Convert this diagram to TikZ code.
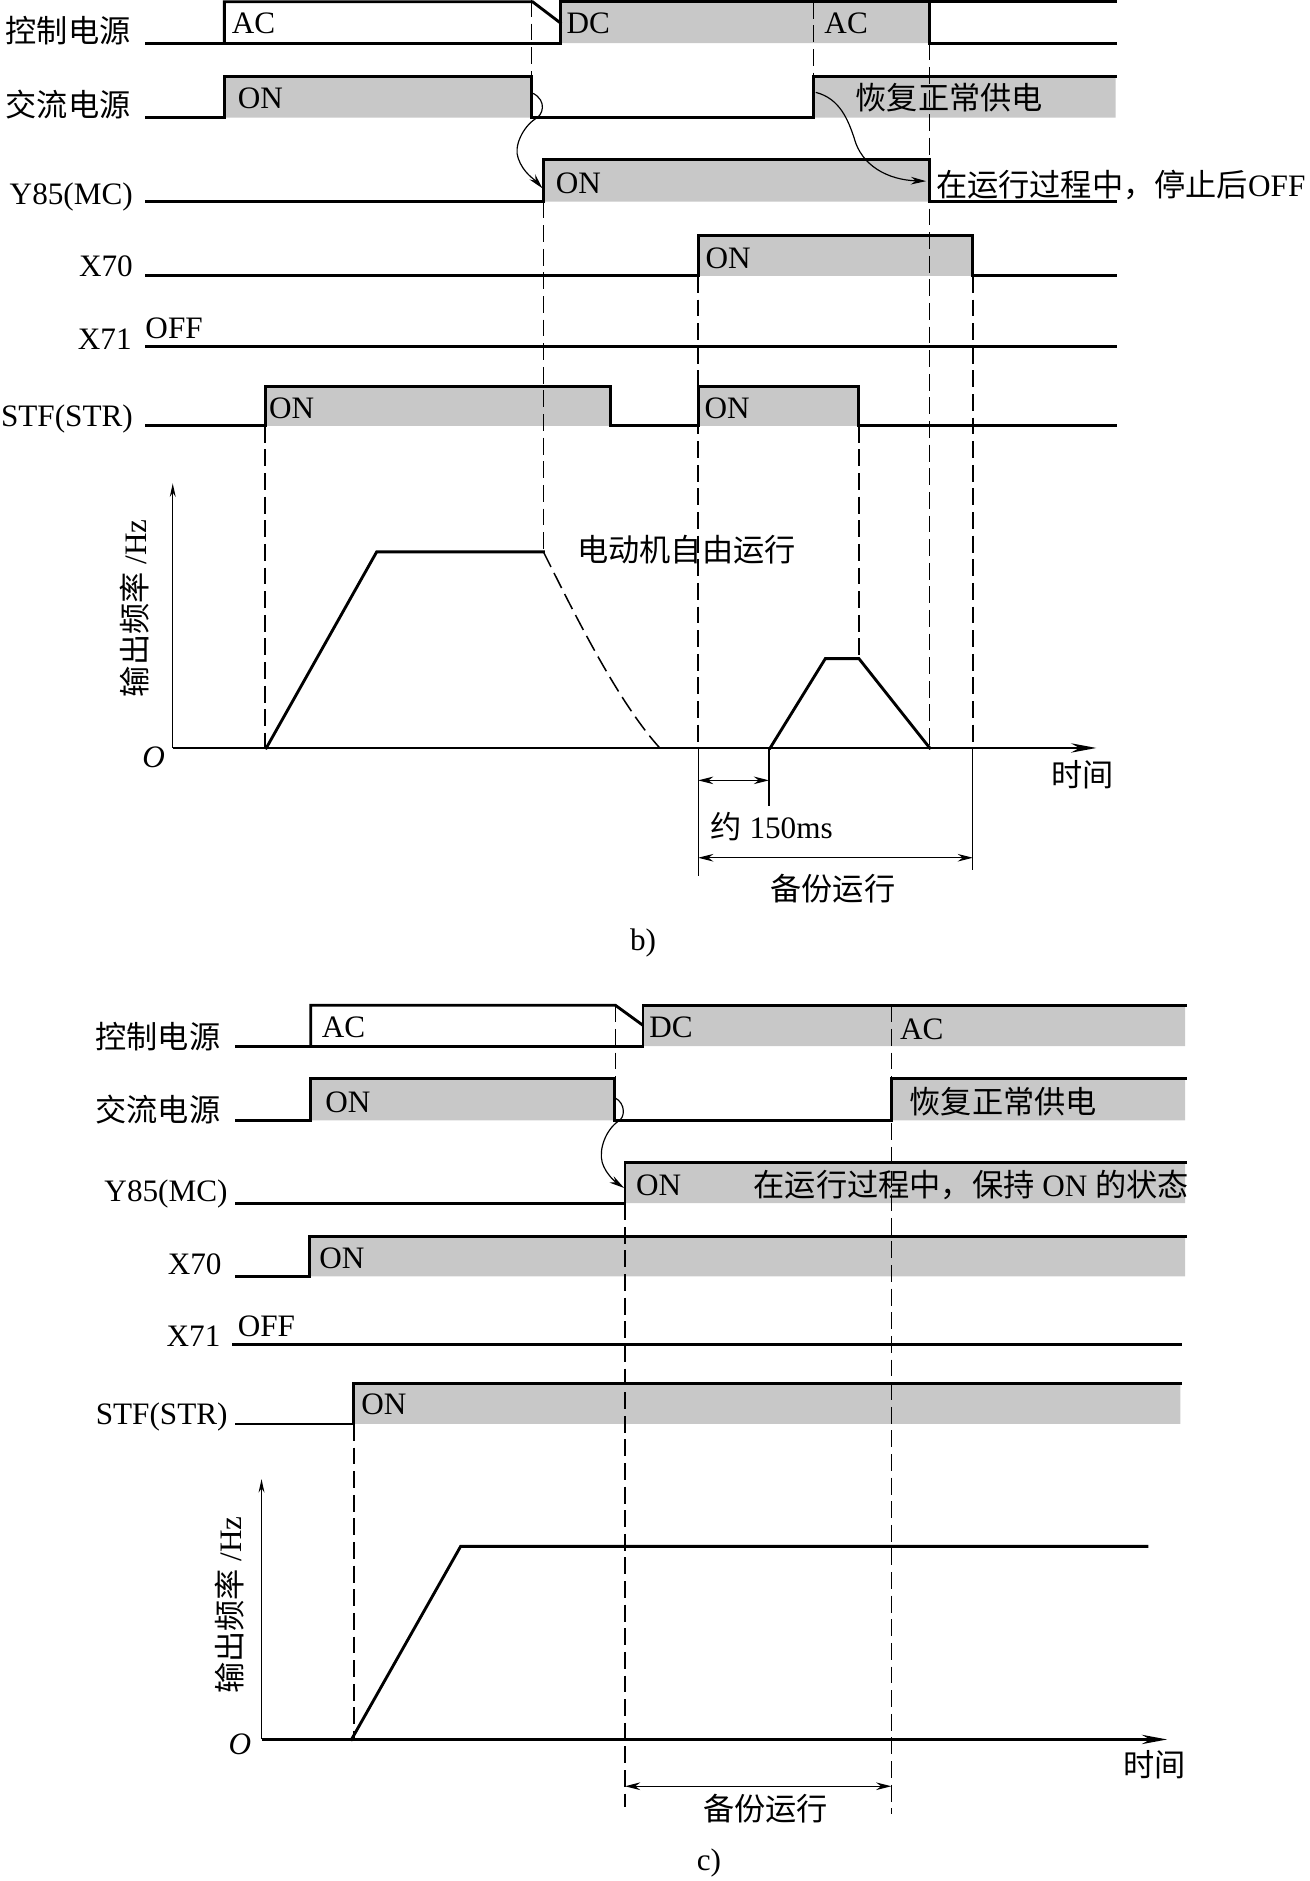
\documentclass[tikz,border=0pt]{standalone}
\usepackage{fontspec}
\setmainfont{Liberation Serif}
\newfontfamily\cjk{Noto Sans CJK SC}
\usetikzlibrary{arrows.meta}
\definecolor{ongray}{RGB}{200,200,200}

\begin{document}
\begin{tikzpicture}[x=0.025cm, y=-0.025cm, font=\fontsize{18.5}{22}\selectfont,
	sig/.style={line width=1.7pt, line cap=rect},
	guide/.style={line width=0.9pt, dash pattern=on 10pt off 4pt},
	fine/.style={line width=0.7pt},
	lbl/.style={anchor=east, inner sep=0pt},
	txt/.style={anchor=west, inner sep=0pt},
	tip/.style={-{Stealth[length=9pt, width=4.5pt]}},
	dtip/.style={{Stealth[length=9pt, width=4.5pt]}-{Stealth[length=9pt, width=4.5pt]}},
	axis/.style={line width=1.7pt, -{Stealth[length=15pt, width=5.5pt]}}]
	\useasboundingbox (0,0) rectangle (1092,1568);
	
	% b)
	\fill [ongray] (467,1.5) rectangle (775,36) (187,64) rectangle (443,98) (678,64) rectangle (930,98) (453,133) rectangle (775,168) (582,196) rectangle (811,230) (221,322) rectangle (509,355) (582,322) rectangle (716,355);
	
	\foreach \x/\a/\b in {443/0/98, 678/1.5/64, 775/36/623, 453/168/460, 221/355/623, 582/230/623, 716/355/549, 811/230/623}
	{
		\draw [guide] (\x,\a) -- (\x,\b);
	}
	
	\draw [sig] (122,36) -- (467,36) -- (467,1.5) -- (930,1.5);
	\draw [sig] (187,36) -- (187,1.5) -- (444,1.5) -- (467,19);
	\draw [sig] (775,1.5) -- (775,36) -- (930,36);
	\draw [sig] (122,98) -- (187,98) -- (187,64) -- (443,64) -- (443,98) -- (678,98) -- (678,64) -- (930,64);
	\draw [sig] (122,168) -- (453,168) -- (453,133) -- (775,133) -- (775,168) -- (930,168);
	\draw [sig] (122,230) -- (582,230) -- (582,196) -- (811,196) -- (811,230) -- (930,230);
	\draw [sig] (122,289) -- (930,289);
	\draw [sig] (122,355) -- (221,355) -- (221,322) -- (509,322) -- (509,355) -- (582,355) -- (582,322) -- (716,322) -- (716,355) -- (930,355);
	
	\coordinate (bfall) at (444.4,77.8);
	\coordinate (bon) at (452.2,157);
	\coordinate (brise) at (680,77);
	\coordinate (boff) at (772,151);
	\draw [fine, tip] (bfall) .. controls (456,84) and (453,96) .. (445.8,99.4) .. controls (436,106) and (428,122) .. (432,132) .. controls (436,144) and (446,150) .. (bon);
	\draw [fine, tip] (brise) .. controls (700,82) and (707,100) .. (712,115) .. controls (718,138) and (740,150) .. (boff);
	
	\draw (109,25.5) node (bctl) [lbl] {\cjk 控制电源};
	\draw (109,87.5) node (bac) [lbl] {\cjk 交流电源};
	\draw (111,164) node (by85) [lbl] {Y85(MC)};
	\draw (111,222) node (bx70) [lbl] {X70};
	\draw (110,283) node (bx71) [lbl] {X71};
	\draw (111,349) node (bstf) [lbl] {STF(STR)};
	\draw (121,274) node (boff71) [txt] {OFF};
	
	\draw (193,19.5) node (bacsrc) [txt] {AC};
	\draw (472,19.5) node (bdcsrc) [txt] {DC};
	\draw (687,19.5) node (bacback) [txt] {AC};
	\draw (198,82) node (bacon) [txt] {ON};
	\draw (713,81) node (bnormal) [txt] {\cjk 恢复正常供电};
	\draw (463,153) node (by85on) [txt] {ON};
	\draw (780,154) node (bstop) [txt] {{\cjk 在运行过程中，停止后}OFF};
	\draw (588,215) node (bx70on) [txt] {ON};
	\draw (224,340) node (bstfon) [txt] {ON};
	\draw (587,340) node (bstfagain) [txt] {ON};
	
	\draw [fine, -{Stealth[length=8pt, width=3.5pt]}] (144,623.5) -- (144,403);
	\draw [axis] (144,623.5) -- (914,623.5);
	\draw [sig] (222,623.5) -- (314,460) -- (453,460);
	\draw [guide] (453,460) .. controls (478,510) and (515,585) .. (550,623.5);
	\draw [sig] (642,623.5) -- (688,549) -- (716,549) -- (775,623.5);
	\draw [fine] (582,623.5) -- (582,730) (811,623.5) -- (811,725) (641,623.5) -- (641,672);
	\draw [fine, dtip] (582,650.5) -- (641,650.5);
	\draw [fine, dtip] (582,715) -- (811,715);
	
	\draw (112,507) node (bfreq) [rotate=90, inner sep=0pt] {{\cjk 输出频率} /Hz};
	\draw (128,631) node (bzero) [inner sep=0pt] {\textit{O}};
	\draw (876,646) node (btime) [txt] {\cjk 时间};
	\draw (481,458) node (bcoast) [txt] {\cjk 电动机自由运行};
	\draw (592,689) node (bdelay) [txt] {{\cjk 约} 150ms};
	\draw (642,741) node (bbackup) [txt] {\cjk 备份运行};
	\draw (536,786) node (bcap) [inner sep=0pt] {b)};
	
	% c)
	\fill [ongray] (536,838) rectangle (988,872) (259,899) rectangle (512,934) (743,899) rectangle (988,934) (521,969) rectangle (988,1003) (258,1031) rectangle (988,1064) (295,1153) rectangle (984,1187);
	
	\foreach \x/\a/\b in {513/838/934, 743/838/1512, 521/1003/1506, 295/1187/1450}
	{
		\draw [guide] (\x,\a) -- (\x,\b);
	}
	
	\draw [sig] (197,872) -- (536,872) -- (536,838) -- (988,838);
	\draw [sig] (259,872) -- (259,838) -- (513,838) -- (535,854);
	\draw [sig] (197,934) -- (259,934) -- (259,899) -- (512,899) -- (512,934) -- (743,934) -- (743,899) -- (988,899);
	\draw [sig] (197,1003) -- (521,1003) -- (521,969) -- (988,969);
	\draw [sig] (197,1064) -- (258,1064) -- (258,1031) -- (988,1031);
	\draw [sig] (195,1121) -- (984,1121);
	\draw [sig] (197,1187) -- (295,1187) -- (295,1153) -- (984,1153);
	
	\coordinate (cfall) at (512.5,915);
	\coordinate (con) at (520.3,990.3);
	\draw [fine, tip] (cfall) .. controls (522,920) and (521,932) .. (515.3,934.7) .. controls (505,942) and (499,958) .. (502,969) .. controls (505,979) and (514,986) .. (con);
	
	\draw (184,864) node (cctl) [lbl] {\cjk 控制电源};
	\draw (184,925) node (cac) [lbl] {\cjk 交流电源};
	\draw (190,995) node (cy85) [lbl] {Y85(MC)};
	\draw (185,1054) node (cx70) [lbl] {X70};
	\draw (184,1114) node (cx71) [lbl] {X71};
	\draw (190,1181) node (cstf) [lbl] {STF(STR)};
	\draw (198,1106) node (coff71) [txt] {OFF};
	
	\draw (268,856) node (cacsrc) [txt] {AC};
	\draw (541,856) node (cdcsrc) [txt] {DC};
	\draw (750,858) node (cacback) [txt] {AC};
	\draw (271,919) node (cacon) [txt] {ON};
	\draw (758,918) node (cnormal) [txt] {\cjk 恢复正常供电};
	\draw (530,988) node (cy85on) [txt] {ON};
	\draw (628,988) node (ckeep) [txt] {{\cjk 在运行过程中，保持} ON {\cjk 的状态}};
	\draw (266,1049) node (cx70on) [txt] {ON};
	\draw (301,1171) node (cstfon) [txt] {ON};
	
	\draw [fine, -{Stealth[length=8pt, width=3.5pt]}] (218,1450) -- (218,1233);
	\draw [axis] (218,1450) -- (973,1450);
	\draw [sig] (293,1450) -- (384,1289) -- (956,1289);
	\draw [fine, dtip] (521,1489) -- (743,1489);
	
	\draw (191,1338) node (cfreq) [rotate=90, inner sep=0pt] {{\cjk 输出频率} /Hz};
	\draw (200,1454) node (czero) [inner sep=0pt] {\textit{O}};
	\draw (936,1471) node (ctime) [txt] {\cjk 时间};
	\draw (586,1508) node (cbackup) [txt] {\cjk 备份运行};
	\draw (591,1553) node (ccap) [inner sep=0pt] {c)};
	
\end{tikzpicture}
\end{document}
